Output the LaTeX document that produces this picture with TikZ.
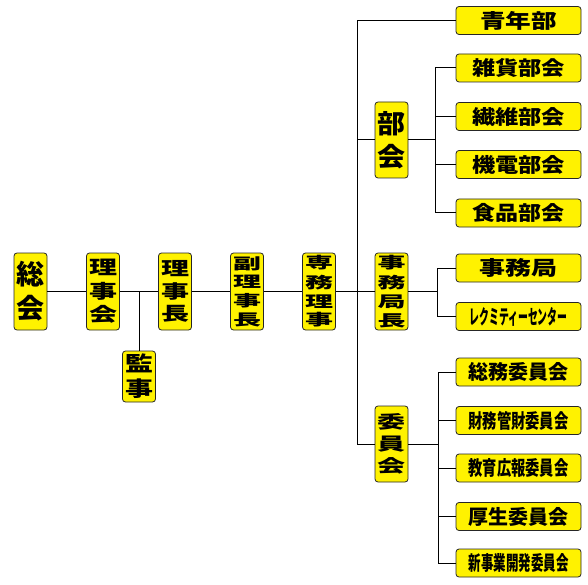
\documentclass[tikz,border=0pt]{standalone}
\usepackage{fontspec}
\usepackage{graphicx}
\newfontfamily\jpfont{Noto Sans CJK JP}
\usetikzlibrary{positioning}

% stacked (vertical) and squeezed (horizontal) labels
\newcommand\tatetext[2]{\resizebox*{28pt}{#1}{\shortstack{#2}}}
\newcommand\yokotext[2]{\resizebox*{#1}{19pt}{#2}}

\begin{document}
\begin{tikzpicture}[x=1pt, y=-1pt,
  font=\jpfont\bfseries,
  post/.style={draw=black!85, fill=yellow, rounded corners=3pt, line width=0.8pt, inner sep=0pt},
  tate/.style={post, minimum width=33pt, minimum height=77pt},
  yoko/.style={post, minimum width=125pt, minimum height=28pt},
  link/.style={draw=black, line width=1pt}
]
\useasboundingbox (0,0) rectangle (588,585);

% --- main chain ---
\node[tate] (sokai)   at (30.5,291.5) {\tatetext{60pt}{総\\会}};
\node[tate] (rijikai) at (103,291.5)  {\tatetext{64pt}{理\\事\\会}};
\node[tate] (rijicho) at (175,291.5)  {\tatetext{62pt}{理\\事\\長}};
\node[tate] (fuku)    at (247,291.5)  {\tatetext{70pt}{副\\理\\事\\長}};
\node[tate] (senmu)   at (319,291.5)  {\tatetext{72pt}{専\\務\\理\\事}};
\node[tate, minimum height=51pt] (kanji) at (139,376.5) {\tatetext{45pt}{監\\事}};

% --- middle column ---
\node[tate, minimum height=76pt] (bukai)   at (391.5,140)   {\tatetext{57pt}{部\\会}};
\node[tate] (jimucho) at (391.5,291.5) {\tatetext{72pt}{事\\務\\局\\長}};
\node[tate, minimum height=76pt] (iinkai)  at (391.5,444)   {\tatetext{60pt}{委\\員\\会}};

% --- right column ---
\node[yoko] (seinen)    at (518.5,20.5)  {\yokotext{77pt}{青年部}};
\node[yoko] (zakka)     at (518.5,68)    {\yokotext{93pt}{雑貨部会}};
\node[yoko] (seni)      at (518.5,116.5) {\yokotext{93pt}{繊維部会}};
\node[yoko] (kiden)     at (518.5,164.5) {\yokotext{93pt}{機電部会}};
\node[yoko] (shokuhin)  at (518.5,213)   {\yokotext{92pt}{食品部会}};
\node[yoko] (jimukyoku) at (518.5,268)   {\yokotext{78pt}{事務局}};
\node[yoko] (lecmity)   at (518.5,316.5) {\yokotext{98pt}{レクミティーセンター}};
\node[yoko] (somu)      at (518.5,372)   {\yokotext{100pt}{総務委員会}};
\node[yoko] (zaimu)     at (518.5,420.5) {\yokotext{100pt}{財務管財委員会}};
\node[yoko] (kyoiku)    at (518.5,468)   {\yokotext{100pt}{教育広報委員会}};
\node[yoko] (kosei)     at (518.5,516.5) {\yokotext{100pt}{厚生委員会}};
\node[yoko] (shinjigyo) at (518.5,563)   {\yokotext{100pt}{新事業開発委員会}};

% trunk lines
\coordinate (trunk) at (357,0);
\coordinate (bkt) at (435,0);
\coordinate (jmt) at (437,0);
\coordinate (iit) at (438,0);

% --- connectors ---
\draw[link] (sokai) -- (rijikai) -- (rijicho) -- (fuku) -- (senmu) -- (jimucho);
\draw[link] (kanji.north) -- (kanji.north |- rijikai.east);
\draw[link] (seinen.west) -| (trunk |- iinkai.west) -- (iinkai.west);
\draw[link] (bukai.west) -- (trunk |- bukai.west);

\draw[link] (bukai.east) -- (bkt |- bukai.east);
\draw[link] (zakka.west) -| (bkt |- shokuhin.west) -- (shokuhin.west);
\foreach \n in {seni, kiden}
  \draw[link] (\n.west) -- (bkt |- \n.west);

\draw[link] (jimucho.east) -- (jmt |- jimucho.east);
\draw[link] (jimukyoku.west) -| (jmt |- lecmity.west) -- (lecmity.west);

\draw[link] (iinkai.east) -- (iit |- iinkai.east);
\draw[link] (somu.west) -| (iit |- shinjigyo.west) -- (shinjigyo.west);
\foreach \n in {zaimu, kyoiku, kosei}
  \draw[link] (\n.west) -- (iit |- \n.west);

\end{tikzpicture}
\end{document}
